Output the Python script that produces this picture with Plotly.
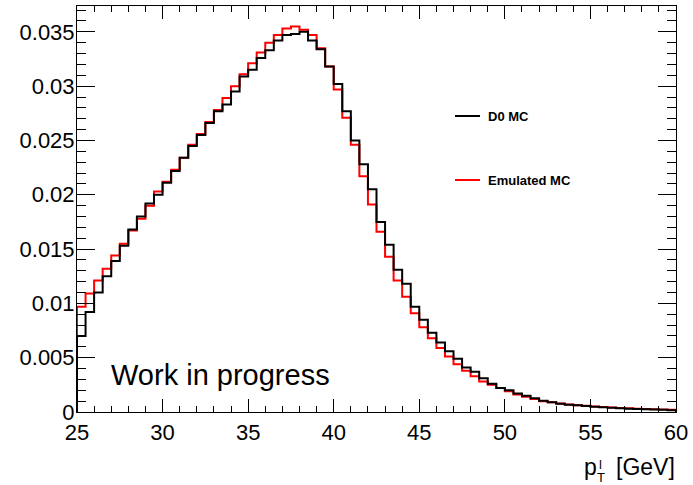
import plotly.graph_objects as go

# ---- data ----
bin_low = 25.0
bin_width = 0.5
d0_mc = [0.0070, 0.0092, 0.0110, 0.0125, 0.0139, 0.0153, 0.0168, 0.0180, 0.0192, 0.0200,
         0.0211, 0.0222, 0.0234, 0.0245, 0.0255, 0.0266, 0.0277, 0.0283, 0.0295, 0.0309,
         0.0315, 0.0326, 0.0333, 0.0342, 0.0347, 0.0348, 0.0350, 0.0342, 0.0334, 0.0318,
         0.0302, 0.0277, 0.0250, 0.0228, 0.0205, 0.0175, 0.0154, 0.0131, 0.0118, 0.0097,
         0.0085, 0.0073, 0.0064, 0.0056, 0.0049, 0.0041, 0.0037, 0.0031, 0.0026, 0.0022,
         0.0020, 0.0017, 0.0015, 0.00126, 0.00104, 0.00090, 0.00077, 0.00067, 0.00061, 0.00055,
         0.00049, 0.00043, 0.00040, 0.00034, 0.00031, 0.00028, 0.00025, 0.00022, 0.00020, 0.00017]
emulated_mc = [0.0097, 0.0109, 0.0121, 0.0132, 0.0144, 0.0155, 0.0167, 0.0178, 0.0190, 0.0203,
               0.0212, 0.0223, 0.0234, 0.0246, 0.0256, 0.0267, 0.0278, 0.0289, 0.0300, 0.0311,
               0.0321, 0.0331, 0.0340, 0.0347, 0.0353, 0.0355, 0.0352, 0.0347, 0.0335, 0.0318,
               0.0297, 0.0271, 0.0246, 0.0217, 0.0191, 0.0166, 0.0143, 0.0121, 0.0106, 0.0091,
               0.0078, 0.0068, 0.0059, 0.0051, 0.0044, 0.0038, 0.0033, 0.0028, 0.0025, 0.0022,
               0.0019, 0.0016, 0.0014, 0.0012, 0.0010, 0.00090, 0.00078, 0.00069, 0.00063, 0.00057,
               0.00051, 0.00045, 0.00042, 0.00037, 0.00034, 0.00031, 0.00028, 0.00025, 0.00023, 0.00021]
x_ticks = [25, 30, 35, 40, 45, 50, 55, 60]
x_tick_labels = ["25", "30", "35", "40", "45", "50", "55", "60"]
y_ticks = [0, 0.005, 0.01, 0.015, 0.02, 0.025, 0.03, 0.035]
y_tick_labels = ["0", "0.005", "0.01", "0.015", "0.02", "0.025", "0.03", "0.035"]
legend_labels = ["D0 MC", "Emulated MC"]
x_title = "[GeV]"
label_text = "Work in progress"


def step_xy(vals):
    n = len(vals)
    edges = [bin_low + bin_width * i for i in range(n + 1)]
    xs = [edges[0]] + edges + [edges[-1]]
    ys = [0.0] + list(vals) + [vals[-1], 0.0]
    return xs, ys


FONT = "Liberation Sans, Arial, sans-serif"
fig = go.Figure()
xr, yr = step_xy(emulated_mc)
fig.add_trace(go.Scatter(x=xr, y=yr, mode="lines", line=dict(color="#ff0000", width=2, shape="hv"),
                         name=legend_labels[1], showlegend=False, hoverinfo="skip"))
xb, yb = step_xy(d0_mc)
fig.add_trace(go.Scatter(x=xb, y=yb, mode="lines", line=dict(color="#000000", width=2, shape="hv"),
                         name=legend_labels[0], showlegend=False, hoverinfo="skip"))

ymax = 0.03738
fig.update_layout(
    width=693, height=485,
    margin=dict(l=77, r=17, t=6, b=73),
    paper_bgcolor="white", plot_bgcolor="white",
    font=dict(family=FONT, size=22, color="black"),
    showlegend=False,
    xaxis=dict(range=[25, 60], tickvals=x_ticks, ticktext=x_tick_labels,
               ticks="inside", ticklen=13, tickwidth=1, tickcolor="black",
               showline=True, linecolor="black", linewidth=1, mirror="ticks",
               showgrid=False, zeroline=False,
               minor=dict(ticks="inside", ticklen=6, dtick=1, tickcolor="black", tickwidth=1, showgrid=False),
               tickfont=dict(family=FONT, size=22), ticklabelstandoff=1),
    yaxis=dict(range=[0, ymax], tickvals=y_ticks, ticktext=y_tick_labels,
               ticks="inside", ticklen=18, tickwidth=1, tickcolor="black",
               showline=True, linecolor="black", linewidth=1, mirror="ticks",
               showgrid=False, zeroline=False,
               minor=dict(ticks="inside", ticklen=9, dtick=0.001, tickcolor="black", tickwidth=1, showgrid=False),
               tickfont=dict(family=FONT, size=22), ticklabelstandoff=-3),
)

# Work in progress label
fig.add_annotation(x=0.053, y=0.048, xref="paper", yref="paper", text=label_text,
                   showarrow=False, xanchor="left", yanchor="bottom",
                   font=dict(family=FONT, size=29, color="black"))

# legend (drawn manually, ROOT style)
leg = [(legend_labels[0], "#000000", 116), (legend_labels[1], "#ff0000", 180)]
for txt, col, ypx in leg:
    yp = 1 - (ypx - 6) / (412 - 6)
    x0 = (455 - 77) / (676 - 77)
    x1 = (480 - 77) / (676 - 77)
    fig.add_shape(type="line", xref="paper", yref="paper", x0=x0, x1=x1, y0=yp, y1=yp,
                  line=dict(color=col, width=2))
    fig.add_annotation(x=(486 - 77) / (676 - 77), y=yp, xref="paper", yref="paper",
                       text="<b>" + txt + "</b>", showarrow=False, xanchor="left", yanchor="middle",
                       font=dict(family=FONT, size=13, color="black"))

# x axis title: p_T^l [GeV], right aligned
fig.add_annotation(x=1.0025, y=-0.099, xref="paper", yref="paper", text=x_title, showarrow=False,
                   xanchor="right", yanchor="top", font=dict(family=FONT, size=23, color="black"))
fig.add_annotation(x=(599 - 77) / 599, y=-0.099, xref="paper", yref="paper", text="p", showarrow=False,
                   xanchor="right", yanchor="top", font=dict(family=FONT, size=23, color="black"))
fig.add_annotation(x=(597 - 77) / 599, y=-0.105, xref="paper", yref="paper", text="l", showarrow=False,
                   xanchor="left", yanchor="top", font=dict(family=FONT, size=13, color="black"))
fig.add_annotation(x=(595 - 77) / 599, y=-0.137, xref="paper", yref="paper", text="T", showarrow=False,
                   xanchor="left", yanchor="top", font=dict(family=FONT, size=13, color="black"))

fig.write_html("out.html")
